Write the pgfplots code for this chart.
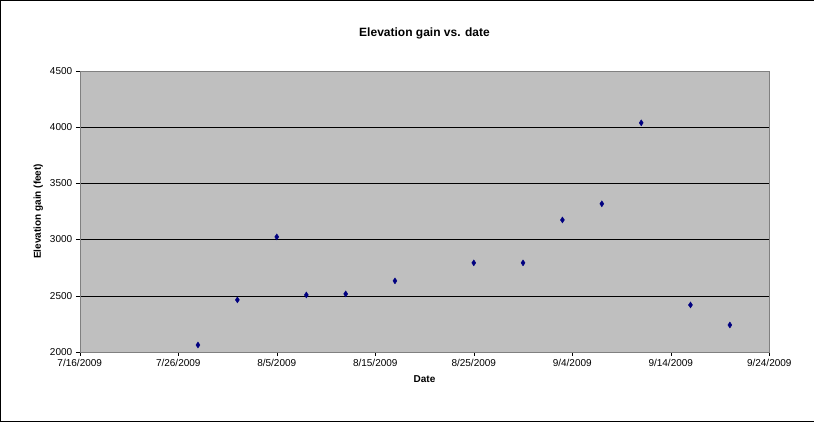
\documentclass[border=0pt]{standalone}
\usepackage{pgfplots}
\pgfplotsset{compat=1.18}
\usepackage{fontspec}
\setmainfont{Liberation Sans}
\begin{document}
\begin{tikzpicture}
\draw[black,fill=white] (0.5pt,0.5pt) rectangle (813.5pt,421.5pt);
\begin{axis}[at={(80pt,70pt)},anchor=south west,scale only axis,
 width=689pt,height=281pt,
 xmin=0,xmax=70,ymin=2000,ymax=4500,
 xtick={0,10,...,70},
 xticklabels={7/16/2009,7/26/2009,8/5/2009,8/15/2009,8/25/2009,9/4/2009,9/14/2009,9/24/2009},
 ytick={2000,2500,...,4500},
 ymajorgrids, grid style={black,thin},
 axis background/.style={fill=black!25},
 axis line style={black!50}, tick style={black},
 tick align=outside, major tick length=4pt,
 xtick pos=bottom, ytick pos=left,
 ticklabel style={font=\fontsize{10}{12}\selectfont},
 /pgf/number format/assume math mode=true,
 /pgf/number format/1000 sep={},
 xlabel={\textbf{Date}}, ylabel={\textbf{Elevation gain (feet)}},
 label style={font=\fontsize{10}{12}\selectfont},
 title={\textbf{Elevation gain vs. date}},
 title style={font=\fontsize{12}{14}\selectfont,yshift=22pt},
 xlabel style={yshift=-2pt},
]
\addplot[only marks,mark=diamond*,mark size=3pt,mark options={xscale=0.9},color={rgb,255:red,0;green,0;blue,128}] coordinates {
(12,2062)(16,2463)(20,3023)(23,2507)(27,2516)(32,2632)(40,2792)(45,2792)(49,3174)(53,3317)(57,4037)(62,2418)(66,2240)};
\end{axis}
\end{tikzpicture}
\end{document}
